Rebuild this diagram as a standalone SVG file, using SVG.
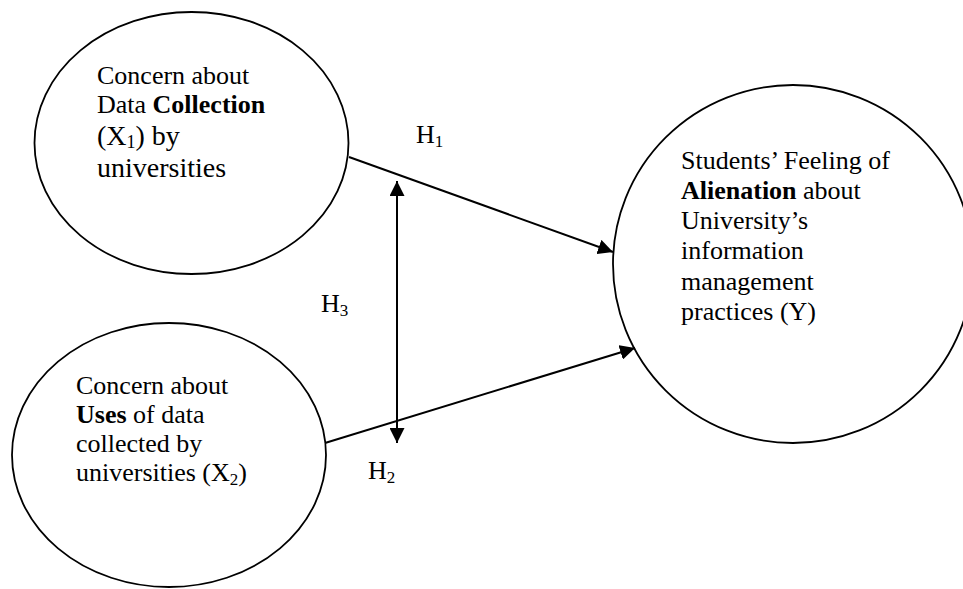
<svg xmlns="http://www.w3.org/2000/svg" width="963" height="589" viewBox="0 0 963 589">
  <defs>
    <style>
      .node { fill: #ffffff; stroke: #000000; stroke-width: 1.8; }
      .lbl { font-family: "Liberation Serif", "Times New Roman", serif; font-size: 26px; fill: #000000; }
      .big { font-size: 28px; }
      .b { font-weight: bold; }
      .conn { stroke: #000000; stroke-width: 2; fill: none; }
    </style>
    <marker id="arrow" viewBox="0 0 15 15" refX="15" refY="7.5" markerWidth="15" markerHeight="15" markerUnits="userSpaceOnUse" orient="auto-start-reverse">
      <path d="M0,0 L15,7.5 L0,15 z" fill="#000000"/>
    </marker>
  </defs>
  <rect width="963" height="589" fill="#ffffff"/>

  <g id="node-x1">
    <ellipse class="node" cx="191.5" cy="143" rx="157" ry="131"/>
    <text class="lbl" x="97" y="84">Concern about</text>
    <text class="lbl" x="97" y="113">Data <tspan class="b">Collection</tspan></text>
    <text class="lbl big" x="97" y="145">(X<tspan font-size="18" dy="3">1</tspan><tspan dy="-3">) by</tspan></text>
    <text class="lbl big" x="97" y="177">universities</text>
  </g>

  <g id="node-x2">
    <ellipse class="node" cx="169" cy="455" rx="157" ry="132"/>
    <text class="lbl" x="76" y="394">Concern about</text>
    <text class="lbl" x="76" y="423"><tspan class="b">Uses</tspan> of data</text>
    <text class="lbl" x="76" y="452">collected by</text>
    <text class="lbl" x="76" y="481">universities (X<tspan font-size="17" dy="4">2</tspan><tspan dy="-4">)</tspan></text>
  </g>

  <g id="node-y">
    <ellipse class="node" cx="793" cy="264" rx="180" ry="179"/>
    <text class="lbl" x="681" y="169">Students’ Feeling of</text>
    <text class="lbl" x="681" y="199"><tspan class="b">Alienation</tspan> about</text>
    <text class="lbl" x="681" y="229">University’s</text>
    <text class="lbl" x="681" y="259">information</text>
    <text class="lbl" x="681" y="290">management</text>
    <text class="lbl" x="681" y="320">practices (Y)</text>
  </g>

  <g id="connectors">
    <line class="conn" x1="349" y1="157" x2="613" y2="252" marker-end="url(#arrow)"/>
    <line class="conn" x1="325" y1="443" x2="635" y2="348" marker-end="url(#arrow)"/>
    <line class="conn" x1="397" y1="181" x2="397" y2="443" marker-start="url(#arrow)" marker-end="url(#arrow)"/>
  </g>

  <g id="labels">
    <text class="lbl" x="416" y="143">H<tspan font-size="17" dy="4">1</tspan></text>
    <text class="lbl" x="321" y="312">H<tspan font-size="17" dy="4">3</tspan></text>
    <text class="lbl" x="368" y="479">H<tspan font-size="17" dy="4">2</tspan></text>
  </g>
</svg>
